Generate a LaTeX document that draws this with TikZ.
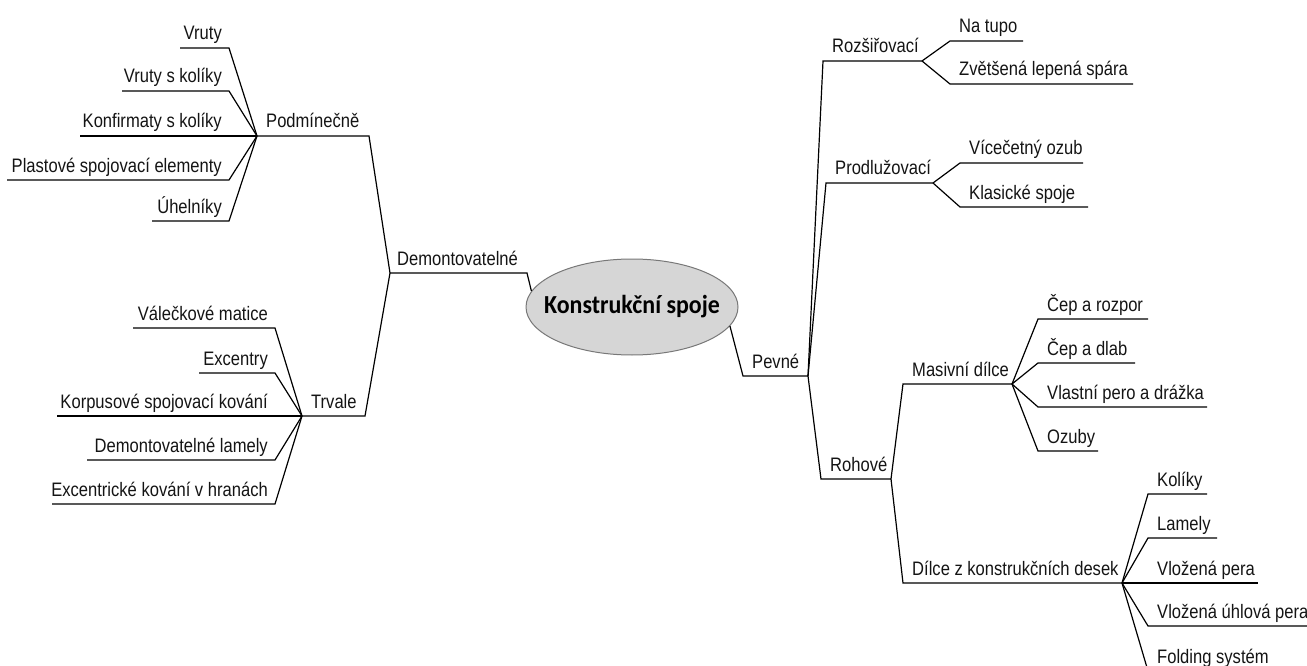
\documentclass[tikz,border=0pt]{standalone}
\usepackage{fontspec}
\setmainfont{Liberation Sans}[FakeStretch=0.85]
\newfontfamily\rootfont{Carlito}[FakeStretch=0.92]
\usetikzlibrary{shapes.geometric}
\definecolor{rootfill}{RGB}{214,214,214}
\definecolor{rootdraw}{RGB}{120,120,120}
\definecolor{txt}{RGB}{20,20,20}
\newcommand\lkid[6]{% name, x1, x2, y, junction, text
  \coordinate (#1-s) at (#2,#4); \coordinate (#1-e) at (#3,#4);
  \node[lblL] (#1) at ([shift={(-7,-8)}]#1-e) {#6};
  \draw[ln] (#1-s) -- (#1-e) -- (#5);}
\newcommand\rkid[6]{% name, x1, x2, y, junction, text
  \coordinate (#1-s) at (#2,#4); \coordinate (#1-e) at (#3,#4);
  \node[lblR] (#1) at ([shift={(9,-8)}]#1-s) {#6};
  \draw[ln] (#5) -- (#1-s) -- (#1-e);}
\begin{document}
\begin{tikzpicture}[x=1pt,y=-1pt,
  ln/.style={line width=1.2pt, draw=black},
  lblL/.style={anchor=base east, inner sep=0pt, text=txt, font=\fontsize{19.5}{22}\selectfont},
  lblR/.style={anchor=base west, inner sep=0pt, text=txt, font=\fontsize{19.5}{22}\selectfont},
  rootshape/.style={ellipse, draw=rootdraw, fill=rootfill, line width=1pt, minimum width=212pt, minimum height=96pt, inner sep=0pt}]
\useasboundingbox (0,0) rectangle (1307,666);

% root
\node[rootshape] (root) at (632,307) {};
\node[inner sep=0pt, text=black, font=\rootfont\bfseries\fontsize{26}{30}\selectfont] (rootlbl) at (root.center) {Konstrukční spoje};

% ---------- left: Demontovatelné ----------
\coordinate (demA) at (527,273);
\coordinate (demJ) at (390,273);
\node[lblR] (dem) at ([shift={(7,-8)}]demJ) {Demontovatelné};
\draw[ln] (root.171) -- (demA) -- (demJ);

% Podmínečně
\coordinate (pJ) at (257,136);
\coordinate (pR) at (369,136);
\node[lblR] (pod) at ([shift={(9,-8)}]pJ) {Podmínečně};
\draw[ln] (pJ) -- (pR) -- (demJ);

\lkid{vr}{180}{229}{48}{pJ}{Vruty}
\lkid{vrk}{122}{229}{91}{pJ}{Vruty s kolíky}
\lkid{kon}{80}{229}{136}{pJ}{Konfirmaty s kolíky}
\lkid{pla}{7}{229}{180}{pJ}{Plastové spojovací elementy}
\lkid{uhe}{152}{229}{221}{pJ}{Úhelníky}

% Trvale
\coordinate (tJ) at (302,416);
\coordinate (tR) at (365,416);
\node[lblR] (trv) at ([shift={(9,-8)}]tJ) {Trvale};
\draw[ln] (tJ) -- (tR) -- (demJ);

\lkid{val}{133}{275}{328}{tJ}{Válečkové matice}
\lkid{exc}{199}{275}{373}{tJ}{Excentry}
\lkid{kor}{57}{275}{416}{tJ}{Korpusové spojovací kování}
\lkid{dla}{87}{275}{460}{tJ}{Demontovatelné lamely}
\lkid{exk}{52}{275}{504}{tJ}{Excentrické kování v hranách}

% ---------- right: Pevné ----------
\coordinate (pvA) at (743,376);
\coordinate (pvJ) at (808,376);
\node[lblR] (pev) at ([shift={(9,-8)}]pvA) {Pevné};
\draw[ln] (root.-11) -- (pvA) -- (pvJ);

\rkid{roz}{823}{922}{61}{pvJ}{Rozšiřovací}
\rkid{nat}{950}{1023}{41}{roz-e}{Na tupo}
\rkid{zve}{950}{1133}{84}{roz-e}{Zvětšená lepená spára}

\rkid{pro}{826}{933}{183}{pvJ}{Prodlužovací}
\rkid{vic}{960}{1083}{163}{pro-e}{Vícečetný ozub}
\rkid{kla}{960}{1088}{207}{pro-e}{Klasické spoje}

\rkid{roh}{821}{891}{479}{pvJ}{Rohové}
\rkid{mas}{903}{1012}{384}{roh-e}{Masivní dílce}
\rkid{cer}{1038}{1148}{319}{mas-e}{Čep a rozpor}
\rkid{ced}{1038}{1135}{363}{mas-e}{Čep a dlab}
\rkid{vla}{1038}{1207}{407}{mas-e}{Vlastní pero a drážka}
\rkid{ozu}{1038}{1098}{451}{mas-e}{Ozuby}

\rkid{dil}{903}{1122}{583}{roh-e}{Dílce z konstrukčních desek}
\rkid{kol}{1148}{1207}{494}{dil-e}{Kolíky}
\rkid{lam}{1148}{1217}{538}{dil-e}{Lamely}
\rkid{vpe}{1148}{1258}{583}{dil-e}{Vložená pera}
\rkid{vup}{1148}{1310}{626}{dil-e}{Vložená úhlová pera}
\rkid{fol}{1148}{1262}{671}{dil-e}{Folding systém}
\end{tikzpicture}
\end{document}
